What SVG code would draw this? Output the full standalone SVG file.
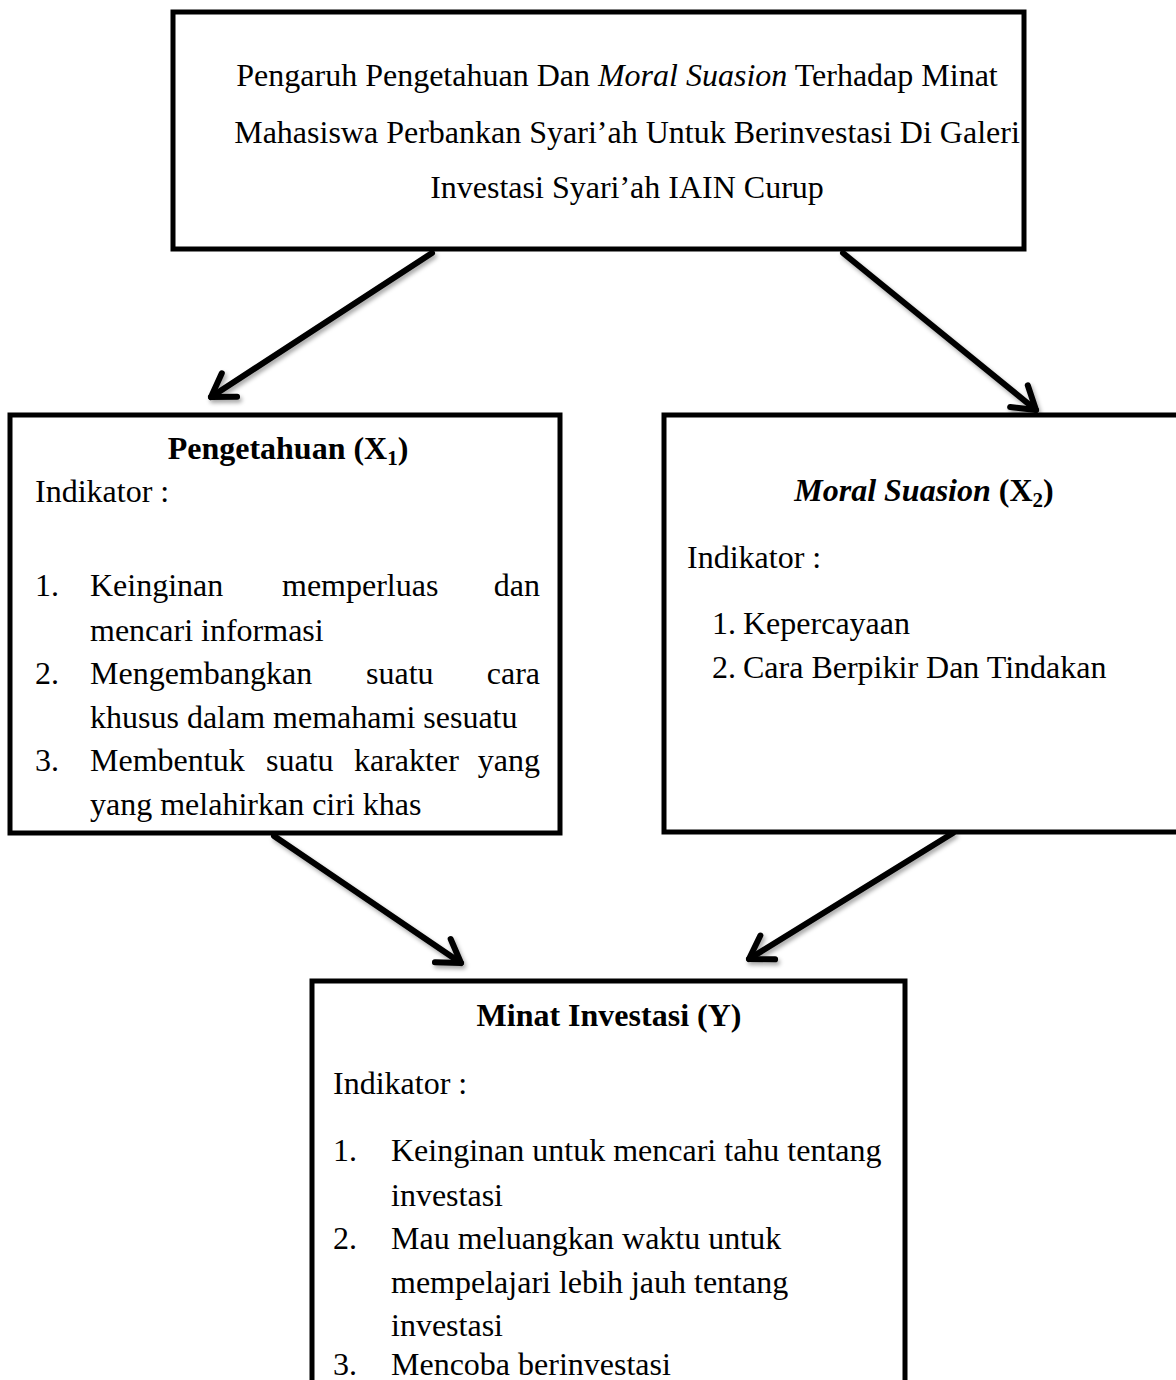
<svg xmlns="http://www.w3.org/2000/svg" width="1176" height="1380" viewBox="0 0 1176 1380">
<style>
text{font-family:"Liberation Serif","Times New Roman",serif;font-size:32px;fill:#000}
.b{font-weight:bold}
.i{font-style:italic}
.c{text-anchor:middle}
.e{text-anchor:end}
.box{fill:#fff;stroke:#000;stroke-width:5}
.arr{stroke:#000;stroke-width:6;stroke-linecap:round;fill:none}
</style>
<defs>
<filter id="sh" x="-20%" y="-20%" width="140%" height="140%">
<feDropShadow dx="2" dy="3" stdDeviation="2" flood-color="#000" flood-opacity="0.35"/>
</filter>
<marker id="ah" markerUnits="userSpaceOnUse" markerWidth="40" markerHeight="40" refX="30" refY="20" orient="auto" viewBox="0 0 40 40">
<path d="M8,6 L30,20 L8,34" fill="none" stroke="#000" stroke-width="6" stroke-linecap="round" stroke-linejoin="round"/>
</marker>
</defs>

<g id="connectors" filter="url(#sh)">
<line class="arr" x1="432" y1="253" x2="211" y2="397" marker-end="url(#ah)"/>
<line class="arr" x1="843" y1="253" x2="1036" y2="410" marker-end="url(#ah)"/>
<line class="arr" x1="274" y1="836" x2="461" y2="963" marker-end="url(#ah)"/>
<line class="arr" x1="953" y1="833" x2="749" y2="959" marker-end="url(#ah)"/>
</g>

<g id="node-title">
<rect class="box" x="173" y="12" width="851" height="237"/>
<text class="c" x="617" y="86">Pengaruh Pengetahuan Dan <tspan class="i">Moral Suasion</tspan> Terhadap Minat</text>
<text class="c" x="627" y="143">Mahasiswa Perbankan Syari’ah Untuk Berinvestasi Di Galeri</text>
<text class="c" x="627" y="198">Investasi Syari’ah IAIN Curup</text>
</g>

<g id="node-x1">
<rect class="box" x="10" y="415" width="550" height="418"/>
<text class="b c" x="288" y="459">Pengetahuan (X<tspan font-size="21" dy="6">1</tspan><tspan dy="-6">)</tspan></text>
<text x="35" y="502">Indikator :</text>
<text x="35" y="596">1.</text>
<text x="90" y="596">Keinginan</text>
<text x="282" y="596">memperluas</text>
<text class="e" x="540" y="596">dan</text>
<text x="90" y="641">mencari informasi</text>
<text x="35" y="684">2.</text>
<text x="90" y="684">Mengembangkan</text>
<text x="366" y="684">suatu</text>
<text class="e" x="540" y="684">cara</text>
<text x="90" y="728">khusus dalam memahami sesuatu</text>
<text x="35" y="771">3.</text>
<text x="90" y="771">Membentuk</text>
<text x="266" y="771">suatu</text>
<text x="354" y="771">karakter</text>
<text class="e" x="540" y="771">yang</text>
<text x="90" y="815">yang melahirkan ciri khas</text>
</g>

<g id="node-x2">
<rect class="box" x="664" y="415" width="530" height="417"/>
<text class="b c" x="924" y="501"><tspan class="i">Moral Suasion</tspan> (X<tspan font-size="21" dy="6">2</tspan><tspan dy="-6">)</tspan></text>
<text x="687" y="568">Indikator :</text>
<text x="712" y="634">1.</text>
<text x="743" y="634">Kepercayaan</text>
<text x="712" y="678">2.</text>
<text x="743" y="678">Cara Berpikir Dan Tindakan</text>
</g>

<g id="node-y">
<rect class="box" x="312" y="981" width="593" height="420"/>
<text class="b c" x="609" y="1026">Minat Investasi (Y)</text>
<text x="333" y="1094">Indikator :</text>
<text x="333" y="1161">1.</text>
<text x="391" y="1161">Keinginan untuk mencari tahu tentang</text>
<text x="391" y="1206">investasi</text>
<text x="333" y="1249">2.</text>
<text x="391" y="1249">Mau meluangkan waktu untuk</text>
<text x="391" y="1293">mempelajari lebih jauh tentang</text>
<text x="391" y="1336">investasi</text>
<text x="333" y="1375">3.</text>
<text x="391" y="1375">Mencoba berinvestasi</text>
</g>
</svg>
